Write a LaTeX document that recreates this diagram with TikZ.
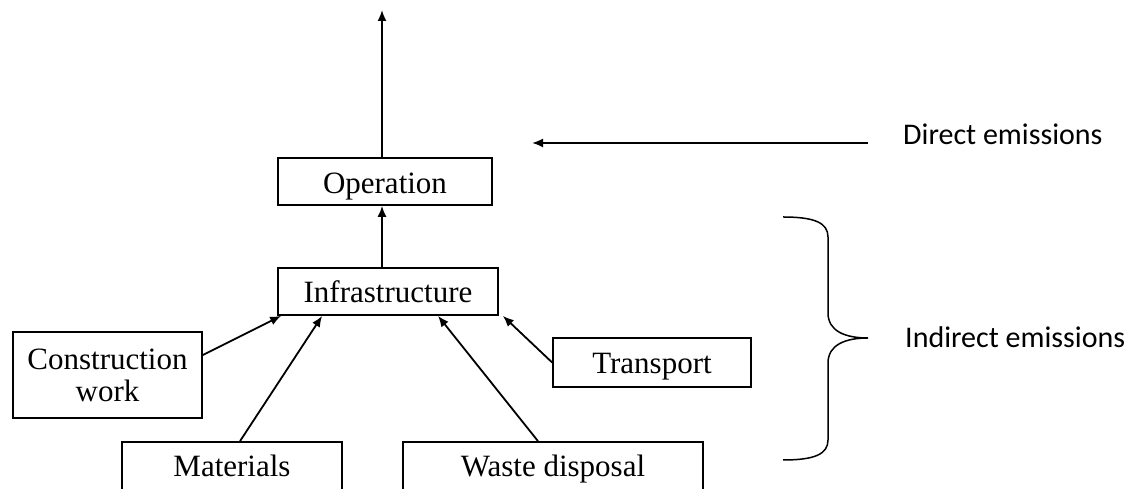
\documentclass[tikz,border=0pt]{standalone}
\usepackage{fontspec}
\setmainfont{Liberation Serif}
\newfontfamily\labelfont{Carlito}
\usetikzlibrary{arrows.meta}
\begin{document}
\begin{tikzpicture}[x=1pt,y=1pt,
  box/.style={draw, line width=1.7pt, inner sep=0pt, align=center,
    text height=30pt, text depth=7pt,
    font=\fontsize{31}{32}\selectfont},
  conn/.style={line width=1.8pt, -{Latex[length=11pt,width=9pt]}},
  side/.style={anchor=base west, inner sep=0pt, font=\labelfont\fontsize{30}{32}\selectfont}]
\useasboundingbox (0,0) rectangle (1130,489);
\node[box, minimum width=214pt, minimum height=47pt, text depth=5pt] (op) at (385,307.5) {Operation};
\node[box, minimum width=220pt, minimum height=47pt] (inf) at (388,197.5) {Infrastructure};
\node[box, minimum width=189pt, minimum height=86pt, text height=, text depth=] (cw) at (107.5,114) {Construction\\work};
\node[box, minimum width=198pt, minimum height=49pt] (tr) at (652,126.5) {Transport};
\node[box, minimum width=220pt, minimum height=70pt, text height=25pt, text depth=25pt] (mat) at (232,12) {Materials};
\node[box, minimum width=300pt, minimum height=70pt, text height=25pt, text depth=25pt] (wd) at (553,12) {Waste disposal};
\coordinate (top) at (382,479);
\draw[conn] (op.north -| top) -- (top);
\draw[conn] (inf.north -| top) -- (op.south -| top);
\draw[conn] ([yshift=20pt]cw.east) -- ([xshift=4pt]inf.south west);
\draw[conn] ([xshift=8pt]mat.north) -- ([xshift=45pt]inf.south west);
\draw[conn] ([xshift=-15pt]wd.north) -- ([xshift=50pt]inf.south);
\draw[conn] (tr.west) -- ([xshift=4pt]inf.south east);
\coordinate (ds) at (868,346);
\coordinate (de) at (532,346);
\draw[conn] (ds) -- (de);
\node[side] (dl) at (903,344) {Direct emissions};
\draw[line width=1.5pt] (783,272) .. controls (815,272) and (828,266) .. (828,252) -- (828,176) .. controls (828,158) and (845,151) .. (868,151) .. controls (845,151) and (828,144) .. (828,126) -- (828,49) .. controls (828,35) and (815,29) .. (783,29);
\node[side] (il) at (905,141) {Indirect emissions};
\end{tikzpicture}
\end{document}
